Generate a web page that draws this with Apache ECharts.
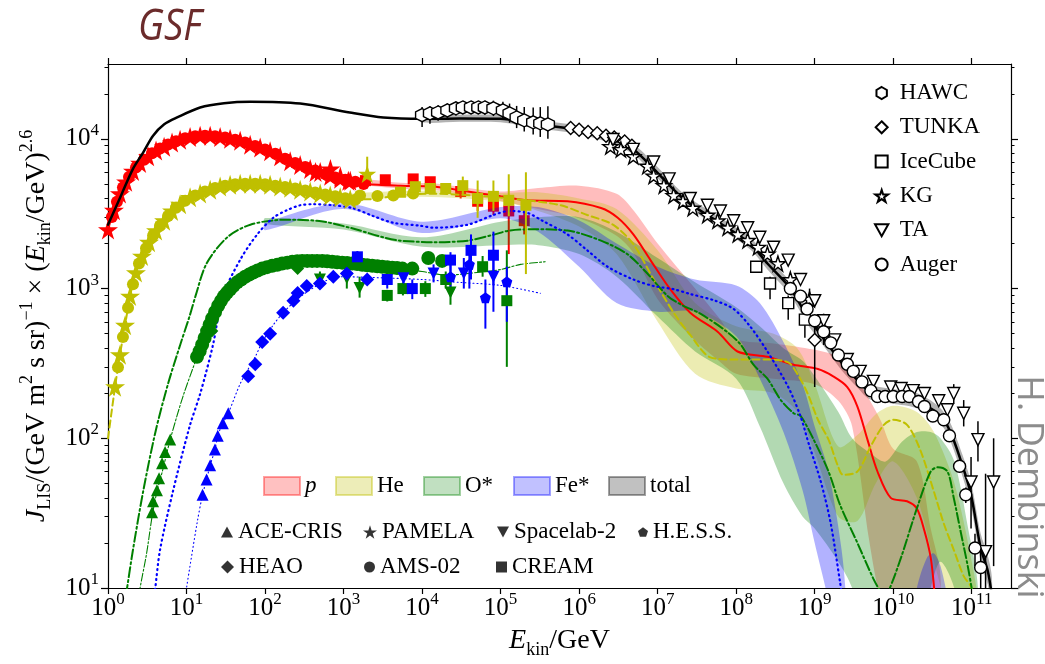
<!DOCTYPE html>
<html><head><meta charset="utf-8">
<script src="https://cdn.jsdelivr.net/npm/echarts@6/dist/echarts.min.js"></script>
<style>html,body{margin:0;padding:0;background:#fff}#c{width:1045px;height:664px}</style>
</head><body><div id="c"></div>
<script>
// ---------------- tick values ----------------
const xTicks = [1,10,100,1e3,1e4,1e5,1e6,1e7,1e8,1e9,1e10,1e11];
const yTicks = [10,100,1000,10000];
const yMinorTicks = [20,30,40,50,60,70,80,90,200,300,400,500,600,700,800,900,2000,3000,4000,5000,6000,7000,8000,9000,20000,30000];

// ---------------- model curves [E/GeV, J] ----------------
const totalLine = [[1,2670],[1.5,4300],[2.08,6300],[2.8,8100],[3.75,10500],[5.2,12500],[7.6,13900],[14.9,16200],[30,17300],[65,17700],[280,17200],[1200,15000],[3200,13900],[1e4,13600],[3e4,13700],[1e5,13600],[2.5e5,12600],[9.5e5,11500],[2.3e6,10200],[4.9e6,8500],[8.9e6,6300],[2.1e7,4000],[5.8e7,2800],[1.5e8,2000],[2.5e8,1470],[4.9e8,1000],[8.5e8,620],[1.1e9,520],[2.2e9,320],[3.5e9,245],[5e9,205],[1e10,190],[1.9e10,180],[3.2e10,155],[4.4e10,133],[5.6e10,104],[7.6e10,66],[9.8e10,42],[1.3e11,18.5],[1.6e11,13],[1.8e11,9]];
const totalBand = [[1e4,12900,14300],[3e4,13000,14500],[1e5,12900,14400],[2.5e5,11900,13400],[9.5e5,10800,12300],[2.3e6,9500,10900],[4.9e6,7900,9200],[8.9e6,5800,6900],[2.1e7,3700,4350],[5.8e7,2580,3050],[1.5e8,1830,2200],[2.5e8,1340,1620],[4.9e8,900,1110],[8.5e8,555,690],[1.1e9,465,580],[2.2e9,285,360],[3.5e9,218,275],[5e9,182,230],[1e10,170,213],[1.9e10,160,202],[3.2e10,137,175],[4.4e10,117,150],[5.6e10,90,120],[7.6e10,56,78],[9.8e10,35,51],[1.3e11,15,23],[1.6e11,10.5,16.5],[1.8e11,7,12]];

const pLine = [[1,2480],[1.19,3340],[1.42,4310],[1.7,5170],[2.08,6100],[2.56,6890],[3.24,7640],[4.09,8360],[5.18,8870],[6.54,9440],[8.28,9860],[11.1,10300],[14.9,10500],[20,10500],[26.8,10300],[35.9,10000],[48.2,9720],[64.6,9130],[86.7,8740],[116,8260],[156,7640],[209,7080],[280,6680],[376,6300],[504,6010],[676,5660],[906,5410],[1216,5250],[2000,5000],[5300,4870],[1.4e4,4800],[3.8e4,4450],[1e5,4130],[2.2e5,3890],[7.1e5,3830],[1.9e6,3450],[3.1e6,2970],[4.9e6,2300],[8.1e6,1550],[1.35e7,1040],[2.6e7,690],[5.8e7,515],[1.04e8,380],[2.5e8,350],[5.4e8,310],[1.1e9,290],[1.7e9,260],[2.6e9,220],[3.5e9,163],[4.7e9,98],[6.3e9,60],[9.3e9,40],[1.5e10,38],[2e10,34],[2.5e10,24],[3e10,16],[3.3e10,10.3],[3.6e10,6]];
const pBand = [[1000,5150,5550],[5300,4650,5100],[1.4e4,4550,5050],[3.8e4,4200,4700],[1e5,3850,4450],[3e5,3400,4700],[1e6,2950,4870],[3e6,2250,4300],[5e6,1700,3300],[1e7,850,2000],[3e7,450,1000],[6e7,330,640],[1e8,270,460],[3e8,250,430],[1e9,230,390],[2e9,178,350],[3e9,120,280],[5e9,20,180],[7e9,8,130],[1e10,5,85],[2e10,3,70],[3e10,2,25],[4e10,1,12]];

const heLine = [[1,100],[1.23,221],[1.42,362],[1.65,569],[1.91,891],[2.27,1280],[2.71,1650],[3.33,2040],[4.09,2440],[5.18,2840],[6.54,3300],[8.28,3660],[11.1,4070],[14.9,4310],[20,4580],[26.8,4800],[35.9,4940],[48.2,5010],[64.6,5010],[86.7,5010],[116,4940],[156,4800],[209,4720],[280,4580],[376,4450],[504,4310],[676,4190],[906,4070],[1216,3950],[2000,3950],[5300,4200],[1.4e4,4300],[4e4,4200],[1e5,4050],[2.2e5,3890],[5.8e5,3600],[1.27e6,3100],[2.7e6,2670],[4.9e6,1980],[8.9e6,1150],[1.6e7,690],[2.6e7,490],[4.7e7,347],[9.3e7,336],[2.5e8,336],[4.6e8,321],[6e8,270],[8.1e8,200],[1.1e9,133],[1.5e9,98],[1.96e9,66],[2.3e9,57],[3.5e9,60],[5.2e9,89],[7.6e9,123],[1e10,133],[1.5e10,123],[2.2e10,84],[3.3e10,44],[4.4e10,27],[5.9e10,18],[7.9e10,12],[9.8e10,10.2],[1.2e11,7]];
const heBand = [[1000,3900,4250],[1e4,4100,4500],[1e5,3800,4350],[3e5,3300,4400],[1e6,2600,4000],[3e6,1700,3400],[1e7,600,1800],[3e7,270,800],[1e8,215,560],[3e8,200,500],[6e8,150,400],[1e9,80,230],[2e9,30,88],[3.5e9,28,105],[6e9,50,145],[1e10,70,165],[2e10,40,150],[3.3e10,15,110],[6e10,5,50],[1e11,3,15],[1.2e11,2,8]];

const oStarLine = [[1.7,9],[1.75,10],[2.08,18],[2.8,44],[4,109],[5.8,230],[8.3,420],[11,660],[13,890],[18,1470],[33,2200],[65,2670],[170,2880],[460,2840],[1200,2550],[3200,2200],[5300,2090],[1.4e4,2040],[3.8e4,2090],[8.1e4,2290],[1.3e5,2440],[2.6e5,2490],[7.1e5,2440],[1.9e6,2090],[4.1e6,1700],[7.4e6,1260],[1.35e7,890],[2.1e7,770],[3.5e7,680],[7.8e7,510],[1.15e8,420],[1.66e8,310],[2.5e8,250],[3.7e8,180],[5.4e8,147],[6.6e8,141],[9.7e8,98],[1.5e9,60],[2.1e9,36],[3.5e9,20],[5.6e9,11.5],[6.9e9,9.5],[7.8e9,9],[8.7e9,9.5],[1.26e10,16],[2e10,34],[3e10,60],[3.7e10,64],[4.9e10,60],[5.9e10,40],[7.2e10,24],[8.9e10,14],[1.03e11,9],[1.2e11,5]];
const oStarBand = [[100,2700,2960],[1000,2480,2720],[1e4,1900,2200],[1e5,1950,2800],[3e5,1950,3000],[1e6,1700,3000],[3e6,1200,2400],[1e7,650,1600],[3e7,380,1100],[1e8,250,750],[2e8,120,560],[4e8,50,400],[7e8,30,330],[1e9,25,260],[2e9,15,150],[3e9,10,100],[5e9,4,80],[8e9,1,70],[1.3e10,2,95],[2e10,4,110],[3e10,10,110],[4e10,15,100],[6e10,10,70],[9e10,3,25],[1.2e11,1,10]];

const feStarLine = [[3.9,9],[4,10],[4.6,18],[6.7,44],[11,121],[15,200],[21.7,420],[29,890],[48,1550],[79,2290],[127,2970],[191,3340],[280,3600],[410,3660],[740,3600],[1320,3440],[2380,3050],[4300,2750],[9500,2630],[1.4e4,2550],[3.8e4,2670],[8.1e4,3100],[1.3e5,3300],[2.2e5,3200],[3.4e5,2840],[7.1e5,2300],[1.27e6,1800],[2.3e6,1400],[4.9e6,1150],[8.9e6,1040],[1.6e7,990],[2.6e7,920],[5.4e7,830],[9.3e7,730],[1.5e8,560],[2.5e8,380],[4.6e8,220],[6.6e8,140],[8.5e8,90],[1.2e9,51],[1.6e9,27],[2.1e9,11],[2.3e9,8]];
const feStarBand = [[100,2450,2750],[1000,3400,3720],[1e4,2350,2800],[1e5,2950,3500],[3e5,2400,3500],[1e6,1400,2850],[3e6,800,2000],[1e7,700,1400],[3e7,700,1150],[1e8,480,1050],[2e8,250,800],[4e8,110,440],[7e8,45,230],[1e9,20,120],[1.5e9,8,60],[2.2e9,2,18],[2.5e9,1,8]];
const feStarBand2 = [[1.5e10,1,4],[2e10,1,10],[2.7e10,1,16],[3.3e10,1,17],[4e10,1,14],[5e10,1,8],[6e10,1,3]];

const oLine = [[2.5,9],[2.56,10],[3.1,17],[3.64,30],[4.2,44],[5,62],[6.2,98],[9,190],[13.6,350],[17,490],[23,710],[34,950],[56,1200],[100,1400],[210,1500],[500,1530],[1200,1480],[2900,1400],[1e4,1300],[2e4,1230],[5e4,1280],[1e5,1340],[1.8e5,1450],[3.7e5,1510]];
const feLine = [[9.8,9],[10,10],[13.6,27],[16,42],[18,53],[20,66],[23,84],[25,104],[29,126],[34,147],[48,230],[61,290],[77,360],[92,440],[130,580],[170,690],[280,880],[600,1130],[1000,1200],[3000,1180],[1e4,1150],[3e4,1100],[1e5,1050],[3.2e5,930]];

// ---------------- direct measurements [E, J, (lo, hi)] ----------------
const pamelaP = [[1,2480],[1.19,3340],[1.42,4310],[1.7,5170],[2.08,6100],[2.56,6890],[3.24,7640],[4.09,8360],[5.18,8870],[6.54,9440],[8.28,9860],[11.1,10300],[14.9,10500],[20,10500],[26.8,10300],[35.9,10000],[48.2,9720],[64.6,9130],[86.7,8740],[116,8260],[156,7640],[209,7080],[280,6680],[376,6300],[440,6000],[504,6010],[680,6300],[676,5660],[910,5600],[906,5410],[1150,5250],[1216,5250]];
const amsP = [[1.12,3010],[1.3,3800],[1.55,4730],[1.85,5570],[2.27,6430],[2.88,7250],[3.64,8000],[4.6,8610],[5.82,9160],[7.36,9640],[9.59,10100],[12.9,10400],[17.2,10500],[23.1,10400],[31,10200],[41.6,9860],[55.7,9440],[74.8,8960],[100,8500],[135,7940],[180,7360],[242,6890],[325,6490],[435,6150],[584,5830],[783,5530],[1050,5330],[1410,5170],[1800,5000]];
const creamP = [[1900,5260,5000,5550],[3400,5330,5050,5600],[7700,5400,5100,5750],[1.27e4,5170,4850,5500],[3.1e4,4450,4000,5000],[5.1e4,3830,3300,4400],[8.1e4,3550,3100,4100],[1.27e5,3300,1700,3700],[2e5,2840,2300,3400]];

const pamelaHe = [[1.23,221],[1.42,362],[1.65,569],[1.91,891],[2.27,1280],[2.71,1650],[3.33,2040],[4.09,2440],[5.18,2840],[6.54,3300],[8.28,3660],[11.1,4070],[14.9,4310],[20,4580],[26.8,4800],[35.9,4940],[48.2,5010],[64.6,5010],[86.7,5010],[116,4940],[156,4800],[209,4720],[280,4580],[376,4450],[504,4310],[676,4190],[906,4070],[1216,3950]];
const pamelaHeErr = [[2000,5830,5170,7600]];
const amsHe = [[1.34,298],[1.55,475],[1.8,745],[2.08,1070],[2.48,1470],[3.05,1860],[3.75,2260],[4.6,2630],[5.82,3050],[7.36,3470],[9.59,3860],[12.9,4190],[17.2,4450],[23.1,4690],[31,4860],[41.6,4980],[55.7,5010],[74.8,5010],[100,4980],[135,4860],[180,4760],[242,4660],[325,4520],[435,4390],[584,4250],[783,4130],[1050,4010],[1410,3920],[1620,4190],[2700,4150],[4300,4190],[7700,4310]];
const creamHe = [[5300,4400,4200,4600],[8200,4790,4550,5050],[1.27e4,4660,4400,4950],[2e4,4660,4350,5000],[3.3e4,4870,4200,5600],[5.1e4,4000,2970,5270],[8.1e4,4130,3300,5270],[1.27e5,3890,3040,5800],[2.1e5,3600,1250,5980]];

const aceO = [[3.64,32],[3.75,38],[4.2,45],[4.47,54],[4.88,68],[5.33,81],[6.2,98]];
const amsO = [[13.6,350],[14.7,382],[15.8,421],[17,468],[18.3,520],[19.7,573],[21.2,631],[23.1,697],[25.3,767],[27.5,828],[30.1,891],[32.8,940],[35.9,990],[39.7,1045],[44.1,1100],[49.7,1150],[55.8,1200],[62.8,1240],[70.6,1280],[80.3,1320],[91.9,1360],[106,1390],[123,1420],[143,1440],[165,1470],[192,1490],[222,1510],[257,1520],[297,1530],[344,1530],[398,1530],[460,1530],[535,1530],[618,1520],[716,1510],[828,1500],[961,1490],[1110,1480],[1290,1470],[1490,1460],[1730,1440],[2000,1430],[2320,1420],[2690,1410],[3110,1400],[3600,1390],[4170,1380],[4800,1370],[5600,1360],[7500,1360],[1.2e4,1600],[1.8e4,1530]];
const heaoO = [[21,520],[260,1360]];
const spacelabO = [[500,1150,1000,1300],[1100,1170,1000,1350],[1600,1010,870,1200],[2.3e4,940,780,1150]];
const creamO = [[3600,900,820,980],[5700,1000,900,1100],[1.1e4,1000,880,1120],[2e4,1150,1000,1300],[5.9e4,1400,1200,1650],[1.2e5,830,300,1800]];

const aceFe = [[16,42],[18,53],[20,66],[23,84],[25,104],[29,126],[34,147]];
const heaoFe = [[61,260],[75,312],[92,440],[116,500],[170,690],[230,830],[260,935],[340,1040],[500,1080],[740,1200],[1100,1260],[2000,1150]];
const creamFe = [[1500,1630,1480,1780],[3600,1150,1000,1300],[7500,1000,850,1150],[2.3e4,1550,1150,1750],[4.2e4,1800,1150,2300],[8.1e4,1670,1050,2400]];
const spacelabFe = [[5800,1170,1050,1300],[1.4e4,1260,1100,1450],[3.4e4,1260,1000,1600],[8.1e4,1200,700,1700]];
const hessFe = [[2.3e4,1200,900,1500],[4e4,1450,1000,1900],[6.4e4,870,540,1150],[1.2e5,1110,600,1400]];

// ---------------- air-shower measurements [E, J, lo, hi] ----------------
const hawc = [[1e4,14400,12000,16300],[1.26e4,14800,12600,16500],[1.6e4,15000,13200,16800],[2.1e4,15500,13800,17200],[2.7e4,16000,14300,17700],[3.3e4,16200,14600,17900],[4.2e4,16200,14600,17900],[5.2e4,16200,14600,17900],[6.3e4,16200,14500,18000],[8.1e4,16000,14200,18000],[1.07e5,15500,13600,17700],[1.3e5,14800,12800,17200],[1.6e5,13900,11800,16600],[2e5,13300,11200,16300],[2.6e5,12900,10700,16200],[3.2e5,12700,10300,16300],[4e5,12500,10000,16500]];
const tunka = [[7.8e5,11800,11300,12300],[1e6,11500,11000,12000],[1.3e6,11100,10600,11600],[1.7e6,10900,10400,11400],[2.2e6,10500,10000,11000],[2.8e6,10200,9700,10700],[3.8e6,9600,9100,10100],[4.7e6,9000,8500,9500],[1e9,454,220,560]];
const iceCube = [[1.8e8,1400,1300,1500],[2.7e8,1080,850,1200],[4.6e8,800,620,900],[7.5e8,620,470,700]];
const kg = [[2.5e6,8900,8600,9200],[3.4e6,8500,8200,8800],[4.9e6,7640,7400,7900],[7.4e6,6580,6350,6800],[8.9e6,5660,5450,5850],[1.2e7,4880,4700,5050],[1.6e7,4190,4050,4350],[2.1e7,3830,3700,3970],[2.8e7,3450,3330,3580],[4.3e7,3100,2990,3220],[5.8e7,2840,2730,2950],[7.8e7,2550,2450,2650],[1.05e8,2300,2200,2400],[1.4e8,2100,2000,2200],[1.9e8,1890,1790,1990],[2.5e8,1700,1600,1800],[3.4e8,1470,1370,1570],[4.9e8,1150,1050,1260],[8.6e8,850,700,1000],[1.3e9,540,420,680]];
const ta = [[2.7e6,9900,9600,10200],[4.9e6,8500,8200,8800],[8.9e6,7000,6750,7250],[1.4e7,5400,5200,5600],[2.6e7,4000,3850,4150],[4.3e7,3600,3470,3730],[6.3e7,3300,3180,3420],[9.3e7,2840,2740,2940],[1.4e8,2550,2460,2640],[2e8,2200,2120,2280],[3e8,1890,1820,1960],[4.6e8,1550,1490,1610],[6.6e8,1150,1100,1200],[1e9,830,790,870],[1.3e9,610,580,640],[1.8e9,454,430,480],[2.6e9,336,320,352],[3.8e9,280,266,294],[5.6e9,240,228,252],[9.3e9,220,209,231],[1.26e10,215,204,226],[1.8e10,208,197,219],[2.5e10,199,188,210],[3.8e10,178,166,190],[4.9e10,155,142,168],[5.9e10,199,170,230],[7.9e10,147,120,180],[9.8e10,51,25,75],[1.2e11,98,70,130],[1.5e11,17.5,5,58],[1.9e11,51,14,100]];
const auger = [[4.9e8,1000,970,1030],[6.6e8,890,865,915],[8e8,730,710,750],[1e9,610,594,626],[1.3e9,515,502,528],[1.6e9,434,423,445],[2e9,360,351,369],[2.6e9,312,304,320],[3.1e9,280,273,287],[4e9,238,232,244],[5.2e9,208,202,214],[6.3e9,190,184,196],[7.9e9,190,184,196],[1e10,190,184,196],[1.3e10,190,183,197],[1.6e10,190,182,198],[2.1e10,176,168,184],[2.5e10,163,155,171],[3.2e10,141,133,149],[4.4e10,133,124,142],[5.2e10,104,96,112],[7e10,65,59,71],[8.4e10,42,37,47],[1.1e11,18.5,14,23],[1.3e11,13.7,9,18]];

// ---------------- styling ----------------
const C = {p:'#ff0000', he:'#bfbf00', o:'#008000', fe:'#0000ff'};
const SYM = {
  tri:'path://M0,-10L10,8L-10,8Z',
  triDown:'path://M-10,-8L10,-8L0,10Z',
  square:'path://M-10,-10L10,-10L10,10L-10,10Z',
  diamond:'path://M0,-10L10,0L0,10L-10,0Z',
  star:'path://M0,-10L2.25,-3.09L9.51,-3.09L3.63,1.18L5.88,8.09L0,3.82L-5.88,8.09L-3.63,1.18L-9.51,-3.09L-2.25,-3.09Z',
  hex:'path://M0,-10L8.66,-5L8.66,5L0,10L-8.66,5L-8.66,-5Z',
  pent:'path://M0,-10L9.51,-3.09L5.88,8.09L-5.88,8.09L-9.51,-3.09Z',
  circle:'circle'
};
const SERIF = '"Liberation Serif","DejaVu Serif",serif';

function band(name, rows, fill, z) {
  return { name, type:'custom', data:rows, encode:{x:0, y:[1,2]}, z, silent:true, clip:true,
    renderItem(params, api) {
      if (params.dataIndex !== 0) return;
      const pts = [];
      for (const r of rows) pts.push(api.coord([r[0], r[2]]));
      for (let i = rows.length - 1; i >= 0; i--) pts.push(api.coord([rows[i][0], rows[i][1]]));
      return { type:'polygon', shape:{points:pts, smooth:0.3}, style:{fill} };
    } };
}
function line(name, data, color, width, type, z) {
  return { name, type:'line', data, symbol:'none', showSymbol:false, smooth:0.3, clip:true, silent:true, z,
    lineStyle:{color, width, type, cap:'round'} };
}
function pts(name, data, symbol, size, color, z, hollow) {
  return { name, type:'scatter', data, encode:{x:0, y:1}, symbol, symbolSize:size, z, silent:true, clip:true,
    itemStyle: hollow ? {color:'#fff', borderColor:'#000', borderWidth:1.4, opacity:1} : {color, opacity:1} };
}
function err(rows, color, width, z) {
  return { type:'custom', data:rows, encode:{x:0, y:[2,3]}, z, silent:true, clip:true,
    renderItem(params, api) {
      const a = api.coord([api.value(0), api.value(2)]);
      const b = api.coord([api.value(0), api.value(3)]);
      return { type:'line', shape:{x1:a[0], y1:a[1], x2:b[0], y2:b[1]}, style:{stroke:color, lineWidth:width} };
    } };
}
function dummy(name, symbol, color, border) {
  return { name, type:'scatter', data:[], symbol, itemStyle: border ? {color, borderColor:border, borderWidth:1.5} : {color} };
}

const tickRich = {
  b:{fontSize:25, lineHeight:34, fontFamily:SERIF, color:'#000'},
  s:{fontSize:17, lineHeight:17, fontFamily:SERIF, color:'#000', verticalAlign:'top'}
};
const pow10 = v => '{b|10}{s|' + Math.round(Math.log10(v)) + '}';
const nameRich = {
  n:{fontSize:28, lineHeight:36, fontFamily:SERIF, color:'#000'},
  i:{fontSize:28, lineHeight:36, fontFamily:SERIF, fontStyle:'italic', color:'#000'},
  sub:{fontSize:18, lineHeight:18, fontFamily:SERIF, color:'#000', verticalAlign:'bottom'},
  sup:{fontSize:18, lineHeight:18, fontFamily:SERIF, color:'#000', verticalAlign:'top'}
};
const axLine = {show:true, onZero:false, lineStyle:{color:'#000', width:1.2}};
const X_MIN = 1, X_MAX = 3.1623e11, Y_MIN = 10, Y_MAX = 31623;
const logAx = (o) => Object.assign({type:'log', logBase:10, splitLine:{show:false}, minorTick:{show:false}}, o);

const series = [
  band('totalBand', totalBand, 'rgba(0,0,0,0.3)', 2),
  band('pBand', pBand, 'rgba(255,0,0,0.26)', 2),
  band('heBand', heBand, 'rgba(191,191,0,0.3)', 2),
  band('oBand', oStarBand, 'rgba(0,128,0,0.3)', 2),
  band('feBand', feStarBand, 'rgba(0,0,255,0.3)', 2),
  band('feBand2', feStarBand2, 'rgba(0,0,255,0.3)', 2),
  err(creamP, C.p, 2, 1), pts('CREAM p', creamP, SYM.square, 11, C.p, 1),
  line('pLine', pLine, C.p, 2, 'solid', 3),
  line('heLine', heLine, C.he, 2, [7,4], 3),
  line('oStarLine', oStarLine, C.o, 2, [10,3,2,3], 3),
  line('feStarLine', feStarLine, C.fe, 2.2, [1,4], 3),
  line('oLine', oLine, C.o, 1.1, [8,2,2,2], 3),
  line('feLine', feLine, C.fe, 1.1, [1,3], 3),
  pts('AMS p', amsP, SYM.circle, 12, C.p, 4),
  pts('PAMELA p', pamelaP, SYM.star, 20, C.p, 4),
  pts('AMS He', amsHe, SYM.circle, 12, C.he, 4),
  pts('PAMELA He', pamelaHe, SYM.star, 20, C.he, 4),
  err(pamelaHeErr, C.he, 2, 4), pts('PAMELA He2', pamelaHeErr, SYM.star, 18, C.he, 4),
  err(creamHe, C.he, 2, 4), pts('CREAM He', creamHe, SYM.square, 11, C.he, 4),
  pts('ACE O', aceO, SYM.tri, 12, C.o, 4),
  pts('AMS O', amsO, SYM.circle, 14, C.o, 4),
  pts('HEAO O', heaoO, SYM.diamond, 13, C.o, 4),
  err(spacelabO, C.o, 2, 4), pts('Spacelab O', spacelabO, SYM.triDown, 12, C.o, 4),
  err(creamO, C.o, 2, 4), pts('CREAM O', creamO, SYM.square, 11, C.o, 4),
  pts('ACE Fe', aceFe, SYM.tri, 12, C.fe, 4),
  pts('HEAO Fe', heaoFe, SYM.diamond, 14, C.fe, 4),
  err(creamFe, C.fe, 2, 4), pts('CREAM Fe', creamFe, SYM.square, 11, C.fe, 4),
  err(spacelabFe, C.fe, 2, 4), pts('Spacelab Fe', spacelabFe, SYM.triDown, 12, C.fe, 4),
  err(hessFe, C.fe, 2, 4), pts('HESS Fe', hessFe, SYM.pent, 11, C.fe, 4),
  line('totalLine', totalLine, '#000', 2.5, 'solid', 5),
  err(hawc, '#000', 1.5, 6), err(tunka, '#000', 1.5, 6), err(iceCube, '#000', 1.5, 6),
  err(kg, '#000', 1.5, 6), err(ta, '#000', 1.5, 6), err(auger, '#000', 1.5, 6),
  pts('HAWC', hawc, SYM.hex, 13, '#fff', 7, true),
  pts('TUNKA', tunka, SYM.diamond, 13, '#fff', 7, true),
  pts('IceCube', iceCube, SYM.square, 11, '#fff', 7, true),
  pts('KG', kg, SYM.star, 15, '#fff', 7, true),
  pts('TA', ta, SYM.triDown, 12, '#fff', 7, true),
  pts('Auger', auger, SYM.circle, 12, '#fff', 7, true),
  dummy('p', 'rect', 'rgba(255,0,0,0.3)', 'rgba(255,0,0,0.45)'),
  dummy('He', 'rect', 'rgba(191,191,0,0.35)', 'rgba(191,191,0,0.5)'),
  dummy('O*', 'rect', 'rgba(0,128,0,0.3)', 'rgba(0,128,0,0.45)'),
  dummy('Fe*', 'rect', 'rgba(0,0,255,0.3)', 'rgba(0,0,255,0.45)'),
  dummy('total', 'rect', 'rgba(0,0,0,0.3)', 'rgba(0,0,0,0.45)'),
  dummy('ACE-CRIS', SYM.tri, '#000'), dummy('PAMELA', SYM.star, '#000'),
  dummy('Spacelab-2', SYM.triDown, '#000'), dummy('H.E.S.S.', SYM.pent, '#000'),
  dummy('HEAO', SYM.diamond, '#000'), dummy('AMS-02', SYM.circle, '#000'), dummy('CREAM', SYM.square, '#000')
];

const legTxt = {fontFamily:SERIF, fontSize:23, color:'#000', lineHeight:24};
function leg1(name, left, top, w, h, extra) {
  return {data:[name], left, top, itemWidth:w, itemHeight:h, selectedMode:false, padding:0,
    textStyle:Object.assign({}, legTxt, extra || {})};
}

const option = {
  animation:false,
  backgroundColor:'#fff',
  grid:{left:108, right:34, top:64, bottom:65, containLabel:false},
  xAxis:[
    logAx({position:'bottom', min:X_MIN, max:X_MAX, axisLine:axLine,
      axisTick:{show:true, inside:false, length:6, lineStyle:{color:'#000', width:1.2}, customValues:xTicks},
      axisLabel:{show:true, customValues:xTicks, formatter:pow10, rich:tickRich, margin:3},
      name:'{i|E}{sub|kin}{n|/GeV}', nameLocation:'middle', nameGap:35, nameTextStyle:{rich:nameRich}}),
    logAx({position:'top', min:X_MIN, max:X_MAX, axisLine:axLine,
      axisTick:{show:true, inside:false, length:6, lineStyle:{color:'#000', width:1.2}, customValues:xTicks},
      axisLabel:{show:false}})
  ],
  yAxis:[
    logAx({position:'left', min:Y_MIN, max:Y_MAX, axisLine:axLine,
      axisTick:{show:true, inside:false, length:7, lineStyle:{color:'#000', width:1.2}, customValues:yTicks},
      axisLabel:{show:true, customValues:yTicks, formatter:pow10, rich:tickRich, margin:9},
      name:'{i|J}{sub|LIS}{n|/(GeV m}{sup|2}{n| s sr)}{sup|−1}{n| × (}{i|E}{sub|kin}{n|/GeV)}{sup|2.6}',
      nameLocation:'middle', nameRotate:90, nameGap:48, nameTextStyle:{rich:nameRich}}),
    logAx({position:'left', min:Y_MIN, max:Y_MAX, axisLine:{show:false},
      axisTick:{show:true, inside:false, length:3.5, lineStyle:{color:'#000', width:1}, customValues:yMinorTicks},
      axisLabel:{show:false}}),
    logAx({position:'right', min:Y_MIN, max:Y_MAX, axisLine:axLine,
      axisTick:{show:true, inside:false, length:7, lineStyle:{color:'#000', width:1.2}, customValues:yTicks},
      axisLabel:{show:false}}),
    logAx({position:'right', min:Y_MIN, max:Y_MAX, axisLine:{show:false},
      axisTick:{show:true, inside:false, length:3.5, lineStyle:{color:'#000', width:1}, customValues:yMinorTicks},
      axisLabel:{show:false}})
  ],
  legend:[
    {data:['HAWC','TUNKA','IceCube','KG','TA','Auger'], orient:'vertical', left:874, top:81, itemWidth:26, itemHeight:12,
      itemGap:10.3, selectedMode:false, padding:0, textStyle:legTxt},
    leg1('p', 263, 474, 36, 18, {fontStyle:'italic'}),
    leg1('He', 335, 474, 36, 18),
    leg1('O*', 423, 474, 36, 18),
    leg1('Fe*', 513, 474, 36, 18),
    leg1('total', 608, 474, 36, 18),
    leg1('ACE-CRIS', 221, 520, 12, 12),
    leg1('PAMELA', 363, 520, 14, 14),
    leg1('Spacelab-2', 497, 520, 12, 12),
    leg1('H.E.S.S.', 638, 520, 10, 10),
    leg1('HEAO', 221, 555, 13, 13),
    leg1('AMS-02', 364, 555, 11, 11),
    leg1('CREAM', 496, 555, 11, 11)
  ],
  graphic:[
    {type:'text', x:138, y:5, scaleX:0.87, style:{text:'GSF', font:'italic 44px "Open Sans", "Noto Sans", sans-serif', fill:'#6b2b2b', textAlign:'left', textVerticalAlign:'top'}},
    {type:'text', x:1028, y:487, rotation:-Math.PI/2, style:{text:'H. Dembinski', font:'36px "Open Sans", "Noto Sans", sans-serif', fill:'#8c8c8c', textAlign:'center', textVerticalAlign:'middle'}}
  ],
  series
};

const chart = echarts.init(document.getElementById('c'), null, {renderer:'canvas'});
chart.setOption(option);
</script></body></html>
